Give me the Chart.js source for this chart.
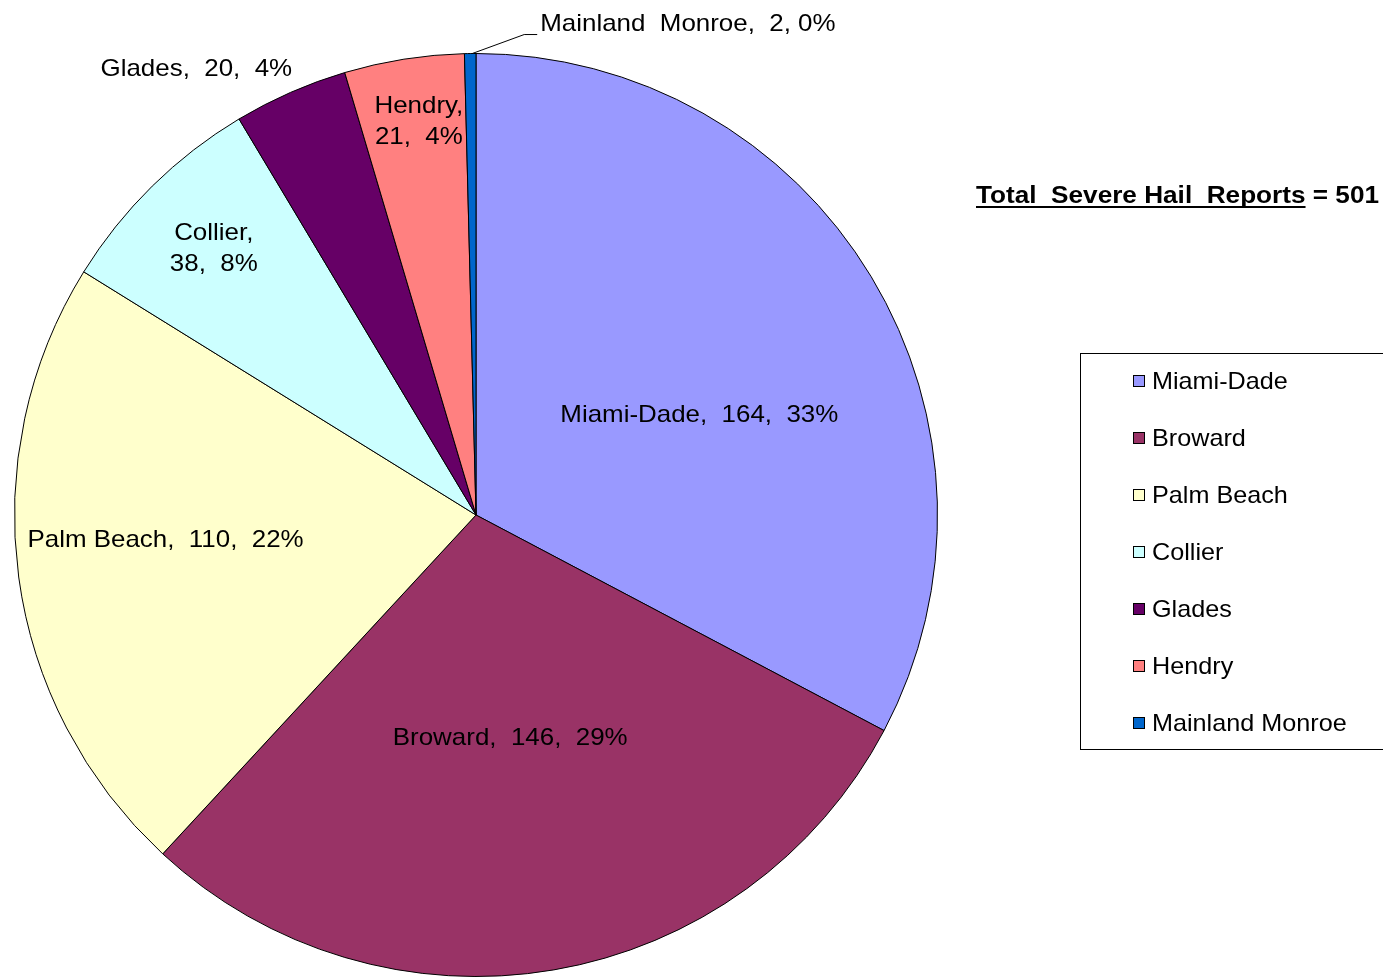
<!DOCTYPE html>
<html>
<head>
<meta charset="utf-8">
<script src="https://cdn.jsdelivr.net/npm/chart.js@4/dist/chart.umd.min.js"></script>
<style>
  html, body { margin: 0; padding: 0; background: #fff; }
  #wrap { position: relative; width: 1383px; height: 978px; }
</style>
</head>
<body>
<div id="wrap"><canvas id="hailChart" width="1383" height="978"></canvas></div>
<script>
// Severe hail reports by county
const counties = ['Miami-Dade', 'Broward', 'Palm Beach', 'Collier', 'Glades', 'Hendry', 'Mainland Monroe'];
const reports = [164, 146, 110, 38, 20, 21, 2];
const sliceColors = ['#9999FF', '#993366', '#FFFFCC', '#CCFFFF', '#660066', '#FF8080', '#0066CC'];
const totalReports = reports.reduce((a, b) => a + b, 0);

// where each data label sits: fraction of radius and angle nudge (degrees)
const labelLayout = [
    { f: 0.53, da: 7, lines: 1 },
    { f: 0.49, da: 1, lines: 1 },
    { f: 0.675, da: 3, lines: 1 },
    { f: 0.81, da: 0, lines: 2 },
    { f: 1.14, da: -8.4, lines: 1 },
    { f: 0.86, da: 0.7, lines: 2 },
    { leader: true }
];

const FONT = '"Liberation Sans", Arial, sans-serif';

function labelText(i) {
    const pct = Math.round(reports[i] / totalReports * 100) + '%';
    if (labelLayout[i].leader) {
        return [counties[i].replace(' ', '  ') + ',  ' + reports[i] + ', ' + pct];
    }
    if (labelLayout[i].lines === 2) {
        return [counties[i] + ',', reports[i] + ',  ' + pct];
    }
    return [counties[i] + ',  ' + reports[i] + ',  ' + pct];
}

// text drawn a little wider, like the original export
function wideText(ctx, text, x, y, align, sx) {
    const w = ctx.measureText(text).width * sx;
    let left = x;
    if (align === 'center') left = x - w / 2;
    else if (align === 'right') left = x - w;
    ctx.save();
    ctx.textAlign = 'left';
    ctx.translate(left, y);
    ctx.scale(sx, 1);
    ctx.fillText(text, 0, 0);
    ctx.restore();
    return w;
}

const overlayPlugin = {
    id: 'overlay',
    afterDraw(chart) {
        const ctx = chart.ctx;
        const arcs = chart.getDatasetMeta(0).data;
        ctx.save();
        ctx.fillStyle = '#000';
        ctx.font = '24px ' + FONT;
        ctx.textBaseline = 'middle';

        arcs.forEach((arc, i) => {
            const cx = arc.x, cy = arc.y, R = arc.outerRadius;
            const mid = (arc.startAngle + arc.endAngle) / 2;
            const lay = labelLayout[i];
            if (lay.leader) {
                // leader line from the thin slice up to its label
                const ex = cx + R * Math.cos(mid) + 2, ey = cy + R * Math.sin(mid);
                const kx = ex + 52, ky = ey - 19;
                ctx.strokeStyle = '#000';
                ctx.lineWidth = 1;
                ctx.beginPath();
                ctx.moveTo(ex, ey);
                ctx.lineTo(kx, ky);
                ctx.lineTo(kx + 13, ky);
                ctx.stroke();
                wideText(ctx, labelText(i)[0], kx + 16, ky - 10, 'left', 1.08);
                return;
            }
            const a = mid + lay.da * Math.PI / 180;
            const x = cx + R * lay.f * Math.cos(a);
            const y = cy + R * lay.f * Math.sin(a);
            const lines = labelText(i);
            const lh = 31;
            lines.forEach((ln, k) => {
                wideText(ctx, ln, x, y + (k - (lines.length - 1) / 2) * lh, 'center', 1.08);
            });
        });

        // total heading, underlined
        ctx.font = 'bold 24px ' + FONT;
        ctx.textBaseline = 'alphabetic';
        const head = 'Total  Severe Hail  Reports';
        const hx = 976, hy = 203;
        const hw = wideText(ctx, head, hx, hy, 'left', 1.09);
        ctx.fillRect(hx, hy + 3, hw, 2);
        wideText(ctx, ' = ' + totalReports, hx + hw, hy, 'left', 1.09);

        // legend box
        ctx.strokeStyle = '#000';
        ctx.lineWidth = 1;
        ctx.strokeRect(1080.5, 353.5, 340, 396);
        ctx.font = '24px ' + FONT;
        ctx.textBaseline = 'middle';
        counties.forEach((name, i) => {
            const y = 381 + i * 57;
            ctx.fillStyle = sliceColors[i];
            ctx.fillRect(1133, y - 6, 12, 12);
            ctx.strokeRect(1133.5, y - 5.5, 11, 11);
            ctx.fillStyle = '#000';
            wideText(ctx, name, 1152, y + 1, 'left', 1.05);
        });
        ctx.restore();
    }
};

const hailCtx = document.getElementById('hailChart').getContext('2d');
const hailChart = new Chart(hailCtx, {
    type: 'pie',
    data: {
        labels: counties,
        datasets: [{
            data: reports,
            backgroundColor: sliceColors,
            borderColor: '#000',
            borderWidth: 1
        }]
    },
    options: {
        responsive: false,
        animation: false,
        layout: {
            padding: { left: 14, top: 53, right: 445, bottom: 1 }
        },
        plugins: {
            legend: { display: false },
            tooltip: { enabled: false }
        }
    },
    plugins: [overlayPlugin]
});
</script>
</body>
</html>
